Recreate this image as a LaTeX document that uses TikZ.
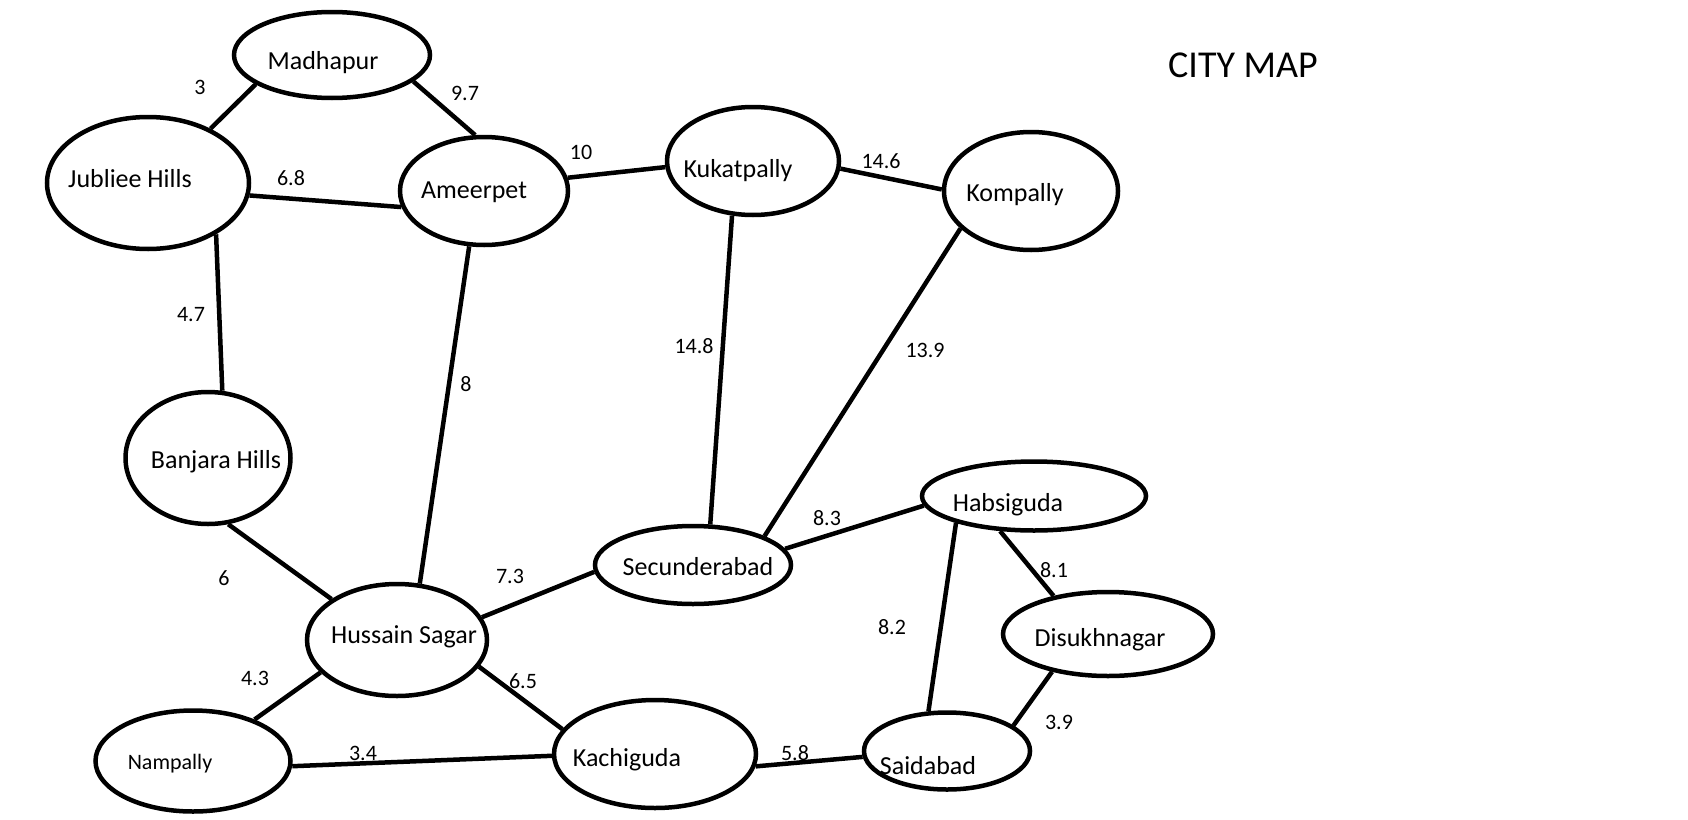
\documentclass[tikz,border=0pt]{standalone}
\usepackage{fontspec}
\setmainfont{Carlito}
\usetikzlibrary{shapes.geometric}

\begin{document}
\begin{tikzpicture}[x=1pt,y=-1pt,
    font=\fontsize{26}{30}\selectfont,
    every label/.style={text depth=0pt},
    city/.style 2 args={ellipse,draw,line width=4.5pt,inner sep=0pt,minimum width=#1,minimum height=#2},
    road/.style={line width=4.5pt},
    dist/.style={font=\fontsize{22}{26}\selectfont,inner sep=0pt}]
    \useasboundingbox (0,0) rectangle (1688,819);

    \node[city={196pt}{86pt},label={[xshift=-9pt,yshift=-5pt]center:Madhapur}] (madhapur) at (332,55) {};
    \node[city={202pt}{132pt},label={[xshift=-18pt,yshift=5pt]center:Jubliee Hills}] (jubliee) at (148,183) {};
    \node[city={168pt}{108pt},label={[xshift=-10pt,yshift=1pt]center:Ameerpet}] (ameerpet) at (484,191) {};
    \node[city={172pt}{108pt},label={[xshift=-15pt,yshift=-7pt]center:Kukatpally}] (kukatpally) at (753,161) {};
    \node[city={174pt}{118pt},label={[xshift=-16pt,yshift=-1pt]center:Kompally}] (kompally) at (1031,191) {};
    \node[city={165pt}{132pt},label={[xshift=8pt,yshift=-1pt]center:Banjara Hills}] (banjara) at (208,458) {};
    \node[city={180pt}{112pt},label={[xshift=7pt,yshift=5pt]center:Hussain Sagar}] (hussain) at (397,640) {};
    \node[city={196pt}{78pt},label={[xshift=5pt,yshift=-1pt]center:Secunderabad}] (secunderabad) at (693,565) {};
    \node[city={224pt}{69pt},label={[xshift=-26pt,yshift=-6pt]center:Habsiguda}] (habsiguda) at (1034,496) {};
    \node[city={210pt}{84pt},label={[xshift=-8pt,yshift=-3pt]center:Disukhnagar}] (disukhnagar) at (1108,634) {};
    \node[city={195pt}{101pt},label={[xshift=-23pt,yshift=-1pt,font=\fontsize{22}{26}\selectfont]center:Nampally}] (nampally) at (193,761) {};
    \node[city={202pt}{108pt},label={[xshift=-28pt,yshift=-3pt]center:Kachiguda}] (kachiguda) at (655,754) {};
    \node[city={166pt}{77pt},label={[xshift=-19pt,yshift=-14pt]center:Saidabad}] (saidabad) at (947,751) {};

    \node[font=\fontsize{38}{44}\selectfont] (title) at (1243,65) {CITY MAP};

    \draw[road] (madhapur.201) -- (jubliee.41);
    \draw[road] (madhapur.342) -- (ameerpet.99);
    \draw[road] (jubliee.353) -- (ameerpet.191);
    \draw[road] (ameerpet.9) -- (kukatpally.184);
    \draw[road] (kukatpally.355) -- (kompally.179);
    \draw[road] (jubliee.323) -- (banjara.78);
    \draw[road] (ameerpet.255) -- (hussain.68);
    \draw[road] (kukatpally.249) -- (secunderabad.67);
    \draw[road] (kompally.208) -- (secunderabad.22);
    \draw[road] (banjara.287) -- (hussain.148);
    \draw[road] (hussain.15) -- (secunderabad.184);
    \draw[road] (secunderabad.10) -- (habsiguda.185);
    \draw[road] (habsiguda.199) -- (saidabad.115);
    \draw[road] (habsiguda.226) -- (disukhnagar.145);
    \draw[road] (disukhnagar.214) -- (saidabad.21);
    \draw[road] (kachiguda.353) -- (saidabad.184);
    \draw[road] (hussain.203) -- (nampally.34);
    \draw[road] (hussain.342) -- (kachiguda.165);
    \draw[road] (nampally.357) -- (kachiguda.181);

    \node[dist] (d-mad-jub) at (200,87) {3};
    \node[dist] (d-mad-ame) at (465,93) {9.7};
    \node[dist] (d-jub-ame) at (291,178) {6.8};
    \node[dist] (d-ame-kuk) at (581,152) {10};
    \node[dist] (d-kuk-kom) at (881,161) {14.6};
    \node[dist] (d-kuk-sec) at (694,346) {14.8};
    \node[dist] (d-kom-sec) at (925,350) {13.9};
    \node[dist] (d-jub-ban) at (191,315) {4.7};
    \node[dist] (d-ame-hus) at (466,384) {8};
    \node[dist] (d-ban-hus) at (224,578) {6};
    \node[dist] (d-hus-sec) at (510,576) {7.3};
    \node[dist] (d-sec-hab) at (827,518) {8.3};
    \node[dist] (d-hab-dis) at (1054,570) {8.1};
    \node[dist] (d-hab-sai) at (892,627) {8.2};
    \node[dist] (d-hus-kac) at (523,681) {6.5};
    \node[dist] (d-hus-nam) at (255,678) {4.3};
    \node[dist] (d-nam-kac) at (363,753) {3.4};
    \node[dist] (d-kac-sai) at (795,753) {5.8};
    \node[dist] (d-dis-sai) at (1059,722) {3.9};
\end{tikzpicture}
\end{document}
